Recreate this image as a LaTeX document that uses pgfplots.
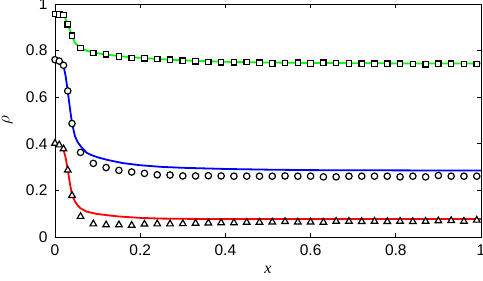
\documentclass[border=0pt]{standalone}
\usepackage{fontspec}
\setmainfont{Liberation Sans}
\newfontfamily\serifit{Liberation Serif}
\usepackage{pgfplots}
\pgfplotsset{compat=1.18}

% marker data
\pgfplotstableread{
x     sq     ci     tr
0.00  0.957  0.761  0.402
0.01  0.955  0.755  0.395
0.02  0.952  0.737  0.378
0.03  0.913  0.627  0.287
0.04  0.864  0.487  0.178
0.06  0.812  0.363  0.088
0.09  0.790  0.316  0.056
0.12  0.784  0.298  0.052
0.15  0.775  0.286  0.052
0.18  0.769  0.279  0.050
0.21  0.767  0.273  0.055
0.24  0.764  0.267  0.056
0.27  0.761  0.266  0.056
0.30  0.757  0.262  0.057
0.33  0.754  0.262  0.059
0.36  0.751  0.263  0.060
0.39  0.750  0.262  0.061
0.42  0.750  0.261  0.061
0.45  0.751  0.261  0.063
0.48  0.748  0.261  0.063
0.51  0.745  0.261  0.064
0.54  0.747  0.262  0.066
0.57  0.748  0.261  0.064
0.60  0.745  0.261  0.064
0.63  0.748  0.258  0.063
0.66  0.747  0.258  0.067
0.69  0.745  0.261  0.067
0.72  0.744  0.261  0.066
0.75  0.744  0.261  0.067
0.78  0.744  0.261  0.066
0.81  0.744  0.258  0.067
0.84  0.742  0.261  0.066
0.87  0.741  0.258  0.067
0.90  0.744  0.264  0.069
0.93  0.744  0.261  0.070
0.96  0.742  0.261  0.067
0.99  0.742  0.261  0.072
}\markers

\begin{document}
\begin{tikzpicture}
\begin{axis}[
    at={(0,0)}, anchor=origin,
    scale only axis,
    width=426pt, height=233pt,
    xmin=0, xmax=1, ymin=0, ymax=1,
    xtick={0,0.2,0.4,0.6,0.8,1},
    ytick={0,0.2,0.4,0.6,0.8,1},
    tick align=inside,
    major tick length=4pt,
    axis line style={line width=0.9pt},
    every tick/.style={line width=0.8pt, black},
    tick label style={font=\fontsize{15.5}{17}\selectfont},
    /pgf/number format/assume math mode=true,
    xticklabel style={yshift=-4pt},
    yticklabel style={xshift=-4pt},
    xlabel={\serifit\itshape x},
    ylabel={$\rho$},
    label style={font=\fontsize{16}{18}\selectfont},
    xlabel style={at={(axis description cs:0.5,-0.1416)}, anchor=center},
    ylabel style={at={(axis description cs:-0.112,0.5)}, anchor=center, rotate=0},
    clip=false,
]
% green
\addplot[color={rgb,255:red,0;green,255;blue,0}, line width=1.8pt] coordinates {
(0.02,0.950) (0.025,0.935) (0.03,0.913) (0.035,0.889) (0.04,0.864) (0.047,0.833)
(0.057,0.816) (0.065,0.806) (0.075,0.799) (0.09,0.791) (0.12,0.783) (0.15,0.776)
(0.2,0.769) (0.25,0.763) (0.3,0.758) (0.4,0.752) (0.5,0.749) (0.6,0.747)
(0.7,0.746) (0.8,0.745) (0.9,0.745) (1.0,0.745)};
% blue
\addplot[color={rgb,255:red,0;green,0;blue,255}, line width=1.8pt] coordinates {
(0.02,0.735) (0.025,0.690) (0.03,0.625) (0.035,0.553) (0.04,0.487) (0.047,0.432)
(0.053,0.408) (0.06,0.390) (0.074,0.362) (0.085,0.352) (0.1,0.342) (0.125,0.330)
(0.16,0.317) (0.2,0.308) (0.25,0.301) (0.3,0.297) (0.4,0.292) (0.5,0.289)
(0.6,0.287) (0.8,0.286) (1.0,0.285)};
% red
\addplot[color={rgb,255:red,255;green,0;blue,0}, line width=1.8pt] coordinates {
(0.02,0.375) (0.025,0.340) (0.03,0.288) (0.035,0.230) (0.04,0.180) (0.047,0.152)
(0.053,0.136) (0.06,0.123) (0.074,0.109) (0.098,0.099) (0.125,0.093) (0.15,0.088)
(0.2,0.082) (0.25,0.079) (0.3,0.078) (0.4,0.077) (0.6,0.077) (0.8,0.077) (1.0,0.077)};
% markers
\addplot[only marks, mark=square*, mark size=2.7pt,
    mark options={draw=black, fill=white, line width=1.2pt}] table[x=x, y=sq] {\markers};
\addplot[only marks, mark=*, mark size=3.2pt,
    mark options={draw=black, fill=white, line width=1.2pt}] table[x=x, y=ci] {\markers};
\addplot[only marks, mark=triangle*, mark size=3.8pt,
    mark options={draw=black, fill=white, line width=1.2pt}] table[x=x, y=tr] {\markers};
\end{axis}
\pgfresetboundingbox
\useasboundingbox (-55pt,-44pt) rectangle (428pt,237pt);
\end{tikzpicture}
\end{document}
